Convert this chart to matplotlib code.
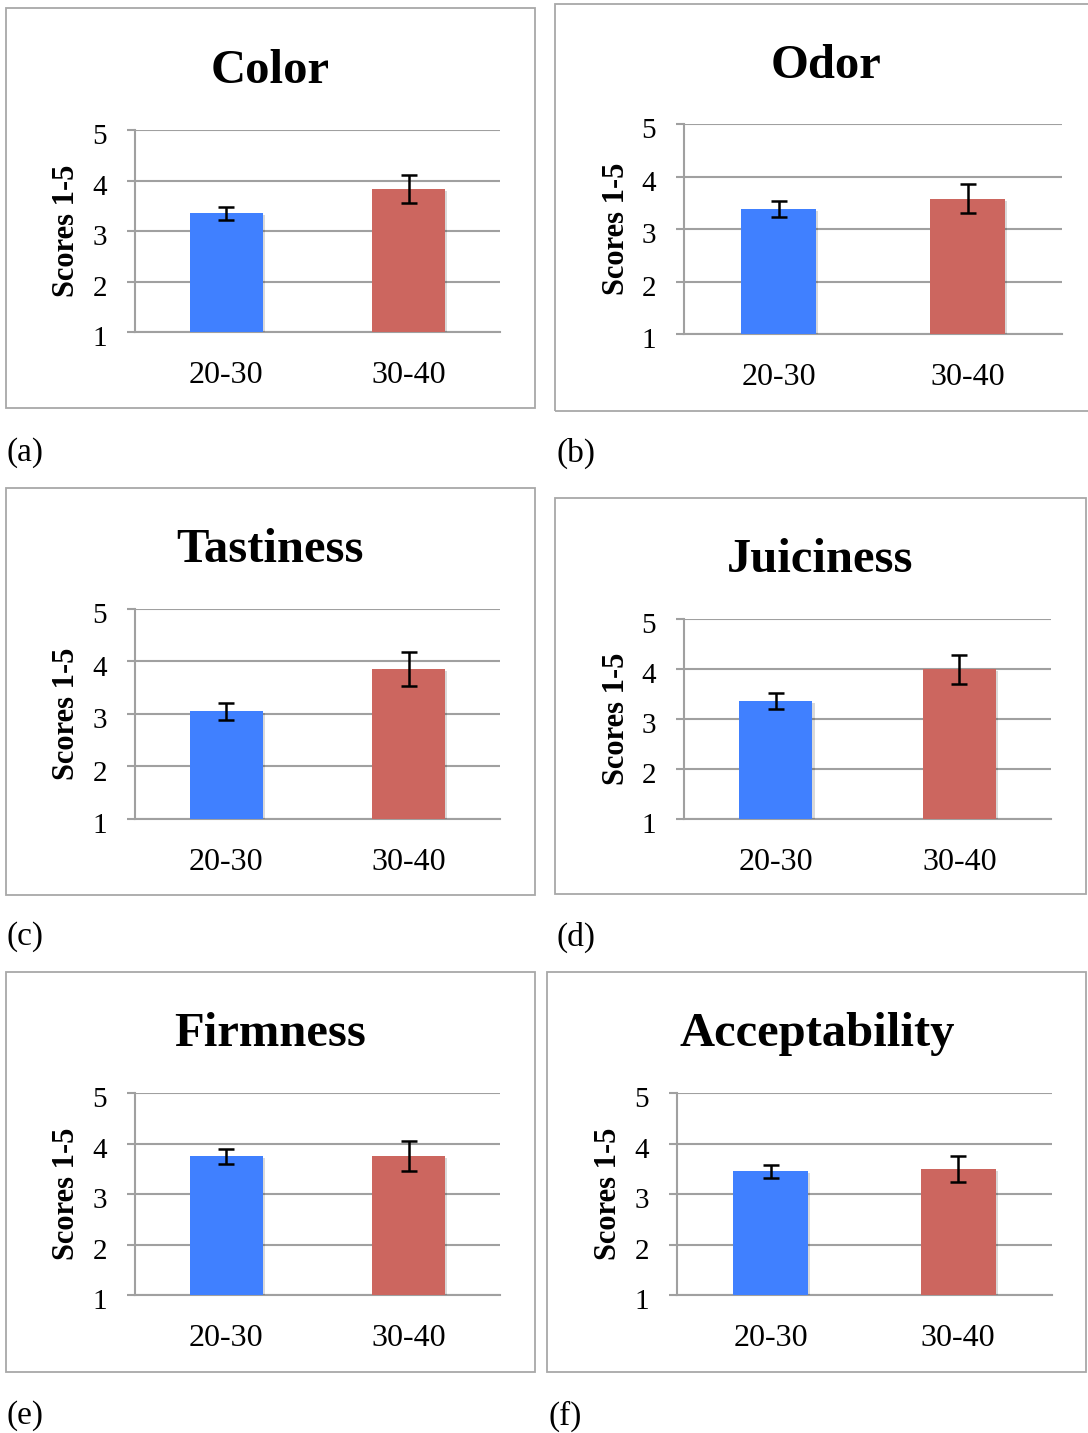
import matplotlib
matplotlib.use("Agg")
import matplotlib.pyplot as plt
import matplotlib.transforms as mtransforms
import matplotlib.patheffects as pe
from matplotlib.patches import Rectangle

# ---------------- data ----------------
categories = ['20-30', '30-40']
titles = ['Color', 'Odor', 'Tastiness', 'Juiciness', 'Firmness', 'Acceptability']
panel_labels = ['(a)', '(b)', '(c)', '(d)', '(e)', '(f)']
means_20_30 = [3.35, 3.38, 3.05, 3.36, 3.75, 3.45]
means_30_40 = [3.83, 3.58, 3.85, 4.00, 3.75, 3.49]
err_20_30 = [0.135, 0.145, 0.16, 0.155, 0.15, 0.13]
err_30_40 = [0.275, 0.275, 0.325, 0.29, 0.29, 0.255]
yticks = [1, 2, 3, 4, 5]
ylabel = 'Scores 1-5'

# ---------------- layout (pixels) ----------------
W, H = 1088, 1433
layout = [
    # box (x0,y0,x1,y1), axes (l,t,r,b), title (x, baseline), ylabel (x,y), label (x,y)
    dict(box=(6, 8, 535, 408), ax=(135, 130, 500, 332), title=(270, 83), ylab=(67, 231), lab=(6, 453)),
    dict(box=(555, 4, 1095, 411), ax=(684, 124, 1062, 334), title=(826, 78), ylab=(616, 229), lab=(557, 453)),
    dict(box=(6, 488, 535, 895), ax=(135, 609, 500, 819), title=(270, 562), ylab=(67, 714), lab=(6, 937)),
    dict(box=(555, 498, 1086, 894), ax=(684, 619, 1051, 819), title=(820, 572), ylab=(616, 719), lab=(557, 937)),
    dict(box=(6, 972, 535, 1372), ax=(135, 1093, 500, 1295), title=(270, 1046), ylab=(67, 1194), lab=(6, 1416)),
    dict(box=(547, 972, 1086, 1372), ax=(677, 1093, 1052, 1295), title=(817, 1046), ylab=(608, 1194), lab=(549, 1416)),
]

SERIF = ['Liberation Serif', 'DejaVu Serif']
plt.rcParams['font.family'] = SERIF
BLUE = '#4080FF'
RED = '#CC665F'
GRID = '#A0A0A0'
BORDER = '#A8A8A8'

fig = plt.figure(figsize=(W / 100, H / 100), dpi=100)
fig.patch.set_facecolor('white')


def fx(x):
    return x / W


def fy(y):
    return 1 - y / H


for i, L in enumerate(layout):
    x0, y0, x1, y1 = L['box']
    fig.patches.append(Rectangle((fx(x0), fy(y1)), fx(x1 - x0), (y1 - y0) / H,
                                 transform=fig.transFigure, fill=False,
                                 edgecolor=BORDER, linewidth=1.3, zorder=0))
    l, t, r, b = L['ax']
    ax = fig.add_axes([fx(l), fy(b), fx(r - l), (b - t) / H])
    ax.set_xlim(-0.5, 1.5)
    ax.set_ylim(1, 5)
    x = range(len(categories))
    vals = [means_20_30[i], means_30_40[i]]
    errs = [err_20_30[i], err_30_40[i]]
    bars = ax.bar(x, vals, width=0.4, color=[BLUE, RED], zorder=3)
    for bar in bars:
        bar.set_path_effects([pe.SimplePatchShadow(offset=(1.5, -1.5), shadow_rgbFace='k', alpha=0.15),
                              pe.Normal()])
    ax.errorbar(x, vals, yerr=errs, fmt='none', ecolor='black', elinewidth=1.8,
                capsize=5.8, capthick=1.8, zorder=4)
    ax.set_yticks(yticks)
    ax.yaxis.grid(True, color=GRID, linewidth=1.5, zorder=1)
    ax.set_axisbelow(True)
    for s in ['top', 'right']:
        ax.spines[s].set_visible(False)
    ax.spines['left'].set_color(GRID)
    ax.spines['left'].set_linewidth(1.5)
    ax.spines['bottom'].set_color(GRID)
    ax.spines['bottom'].set_linewidth(1.5)
    ax.tick_params(axis='y', length=6, width=1.5, color=GRID, pad=14, labelsize=21)
    ax.tick_params(axis='x', length=0, pad=21, labelsize=23)
    ax.set_xticks(list(x))
    ax.set_xticklabels(categories)
    off = mtransforms.ScaledTranslation(0, -3 / 72, fig.dpi_scale_trans)
    for lbl in ax.get_yticklabels():
        lbl.set_transform(lbl.get_transform() + off)
    # title
    tx, ty = L['title']
    fig.text(fx(tx), fy(ty), titles[i], ha='center', va='baseline',
             fontsize=35, fontweight='bold')
    # y label
    yx, yy = L['ylab']
    fig.text(fx(yx), fy(yy), ylabel, ha='center', va='center', rotation=90,
             fontsize=22, fontweight='bold')
    # panel label
    px, py = L['lab']
    fig.text(fx(px), fy(py), panel_labels[i], ha='left', va='center', fontsize=24)

fig.savefig('out.png', dpi=100, facecolor='white')
